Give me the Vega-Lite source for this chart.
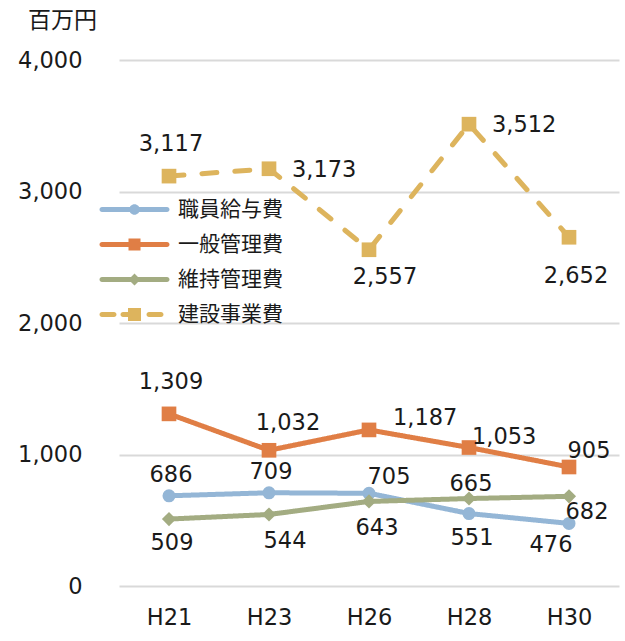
{
  "$schema": "https://vega.github.io/schema/vega-lite/v6.json",
  "width": 500,
  "height": 526,
  "autosize": "none",
  "padding": {"left": 119, "top": 60, "right": 6, "bottom": 55},
  "background": "white",
  "config": {
    "view": {"stroke": null},
    "font": "DejaVu Sans, Noto Sans CJK JP",
    "text": {"font": "DejaVu Sans", "fontSize": 22.5, "color": "#1a1a1a", "baseline": "middle"},
    "axis": {"labelFont": "DejaVu Sans", "labelColor": "#1a1a1a", "domain": false, "ticks": false}
  },
  "data": {
    "values": [
      {"year": "H21", "series": "職員給与費", "value": 686},
      {"year": "H23", "series": "職員給与費", "value": 709},
      {"year": "H26", "series": "職員給与費", "value": 705},
      {"year": "H28", "series": "職員給与費", "value": 551},
      {"year": "H30", "series": "職員給与費", "value": 476},
      {"year": "H21", "series": "一般管理費", "value": 1309},
      {"year": "H23", "series": "一般管理費", "value": 1032},
      {"year": "H26", "series": "一般管理費", "value": 1187},
      {"year": "H28", "series": "一般管理費", "value": 1053},
      {"year": "H30", "series": "一般管理費", "value": 905},
      {"year": "H21", "series": "維持管理費", "value": 509},
      {"year": "H23", "series": "維持管理費", "value": 544},
      {"year": "H26", "series": "維持管理費", "value": 643},
      {"year": "H28", "series": "維持管理費", "value": 665},
      {"year": "H30", "series": "維持管理費", "value": 682},
      {"year": "H21", "series": "建設事業費", "value": 3117},
      {"year": "H23", "series": "建設事業費", "value": 3173},
      {"year": "H26", "series": "建設事業費", "value": 2557},
      {"year": "H28", "series": "建設事業費", "value": 3512},
      {"year": "H30", "series": "建設事業費", "value": 2652}
    ]
  },
  "encoding": {
    "x": {
      "field": "year", "type": "ordinal",
      "scale": {"type": "point", "padding": 0.5},
      "axis": {"title": null, "labelAngle": 0, "labelFontSize": 22.5, "labelPadding": 20, "grid": false}
    },
    "y": {
      "field": "value", "type": "quantitative",
      "scale": {"domain": [0, 4000], "nice": false},
      "axis": {
        "values": [0, 1000, 2000, 3000, 4000], "format": ",d",
        "grid": true, "gridColor": "#d9d9d9", "gridWidth": 2,
        "labelFontSize": 22.5, "labelPadding": 37,
        "title": "百万円", "titleAngle": 0, "titleX": -57, "titleY": -40,
        "titleAlign": "center", "titleBaseline": "middle",
        "titleFont": "Noto Sans CJK JP", "titleFontSize": 23, "titleFontWeight": "normal", "titleColor": "#1a1a1a"
      }
    }
  },
  "layer": [
    {
      "mark": {"type": "line", "strokeWidth": 5, "strokeCap": "round", "strokeJoin": "round"},
      "encoding": {
        "color": {"field": "series", "type": "nominal",
          "scale": {"domain": ["職員給与費", "一般管理費", "維持管理費", "建設事業費"], "range": ["#94B6D6", "#E07E45", "#A3AC82", "#DDB45D"]},
          "legend": null},
        "strokeDash": {"field": "series", "type": "nominal",
          "scale": {"domain": ["職員給与費", "一般管理費", "維持管理費", "建設事業費"], "range": [[1, 0], [1, 0], [1, 0], [15, 18]]},
          "legend": null}
      }
    },
    {
      "transform": [{"filter": "datum.series === '職員給与費'"}],
      "mark": {"type": "point", "shape": "circle", "filled": true, "opacity": 1, "size": 170},
      "encoding": {"color": {"field": "series", "type": "nominal", "legend": null}}
    },
    {
      "transform": [{"filter": "datum.series === '一般管理費' || datum.series === '建設事業費'"}],
      "mark": {"type": "point", "shape": "square", "filled": true, "opacity": 1, "size": 215},
      "encoding": {"color": {"field": "series", "type": "nominal", "legend": null}}
    },
    {
      "transform": [{"filter": "datum.series === '維持管理費'"}],
      "mark": {"type": "point", "shape": "diamond", "filled": true, "opacity": 1, "size": 200},
      "encoding": {"color": {"field": "series", "type": "nominal", "legend": null}}
    },
    {
      "transform": [{"filter": "false"}],
      "mark": {"type": "point", "filled": true, "opacity": 1},
      "encoding": {
        "fill": {"field": "series", "type": "nominal",
          "scale": {"domain": ["建設事業費", "維持管理費", "一般管理費", "職員給与費"], "range": ["#DDB45D", "#A3AC82", "#E07E45", "#94B6D6"]},
          "legend": {
            "title": null, "orient": "none", "legendX": 5, "legendY": 139,
            "values": ["職員給与費", "一般管理費", "維持管理費", "建設事業費"],
            "symbolSize": 100, "symbolStrokeWidth": 0, "symbolOpacity": 1,
            "labelFont": "Noto Sans CJK JP", "labelFontSize": 21, "labelColor": "#1a1a1a",
            "labelOffset": 33, "rowPadding": 13, "padding": 0
          }},
        "shape": {"field": "series", "type": "nominal",
          "scale": {"domain": ["建設事業費", "維持管理費", "一般管理費", "職員給与費"],
            "range": [
              "M-6.5,-0.5H-4.1A0.5,0.5 0 0 1 -4.1,0.5H-6.5A0.5,0.5 0 0 1 -6.5,-0.5ZM-2.3,-0.5H-1.3V-1.3H1.3V1.3H-1.3V0.5H-2.3A0.5,0.5 0 0 1 -2.3,-0.5ZM2.9,-0.5H5.3A0.5,0.5 0 0 1 5.3,0.5H2.9A0.5,0.5 0 0 1 2.9,-0.5Z",
              "M-6.5,-0.5H6.5A0.5,0.5 0 0 1 6.5,0.5H-6.5A0.5,0.5 0 0 1 -6.5,-0.5ZM0,-1.2L1.2,0L0,1.2L-1.2,0Z",
              "M-6.5,-0.5H6.5A0.5,0.5 0 0 1 6.5,0.5H-6.5A0.5,0.5 0 0 1 -6.5,-0.5ZM-1.2,-1.2H1.2V1.2H-1.2Z",
              "M-6.5,-0.5H6.5A0.5,0.5 0 0 1 6.5,0.5H-6.5A0.5,0.5 0 0 1 -6.5,-0.5ZM1.05,0A1.05,1.05 0 1 1 -1.05,0A1.05,1.05 0 1 1 1.05,0Z"
            ]},
          "legend": {
            "title": null, "orient": "none", "legendX": 5, "legendY": 139,
            "values": ["職員給与費", "一般管理費", "維持管理費", "建設事業費"],
            "symbolSize": 100, "symbolStrokeWidth": 0, "symbolOpacity": 1,
            "labelFont": "Noto Sans CJK JP", "labelFontSize": 21, "labelColor": "#1a1a1a",
            "labelOffset": 33, "rowPadding": 13, "padding": 0
          }
        }
      }
    },
    {
      "transform": [{"filter": "indexof(['建設事業費|H21','一般管理費|H21'], datum.series + '|' + datum.year) >= 0"}],
      "mark": {"type": "text", "dx": 2, "dy": -32},
      "encoding": {"text": {"field": "value", "type": "quantitative", "format": ","}}
    },
    {
      "transform": [{"filter": "indexof(['職員給与費|H21','職員給与費|H23'], datum.series + '|' + datum.year) >= 0"}],
      "mark": {"type": "text", "dx": 2, "dy": -21},
      "encoding": {"text": {"field": "value", "type": "quantitative", "format": ","}}
    },
    {
      "transform": [{"filter": "indexof(['維持管理費|H28'], datum.series + '|' + datum.year) >= 0"}],
      "mark": {"type": "text", "dx": 2, "dy": -15},
      "encoding": {"text": {"field": "value", "type": "quantitative", "format": ","}}
    },
    {
      "transform": [{"filter": "indexof(['一般管理費|H23'], datum.series + '|' + datum.year) >= 0"}],
      "mark": {"type": "text", "dx": 19, "dy": -27},
      "encoding": {"text": {"field": "value", "type": "quantitative", "format": ","}}
    },
    {
      "transform": [{"filter": "indexof(['一般管理費|H30','職員給与費|H26'], datum.series + '|' + datum.year) >= 0"}],
      "mark": {"type": "text", "dx": 20, "dy": -16},
      "encoding": {"text": {"field": "value", "type": "quantitative", "format": ","}}
    },
    {
      "transform": [{"filter": "indexof(['建設事業費|H23','建設事業費|H28'], datum.series + '|' + datum.year) >= 0"}],
      "mark": {"type": "text", "align": "left", "dx": 23, "dy": 1},
      "encoding": {"text": {"field": "value", "type": "quantitative", "format": ","}}
    },
    {
      "transform": [{"filter": "indexof(['一般管理費|H26'], datum.series + '|' + datum.year) >= 0"}],
      "mark": {"type": "text", "align": "left", "dx": 24, "dy": -12},
      "encoding": {"text": {"field": "value", "type": "quantitative", "format": ","}}
    },
    {
      "transform": [{"filter": "indexof(['一般管理費|H28'], datum.series + '|' + datum.year) >= 0"}],
      "mark": {"type": "text", "align": "left", "dx": 3, "dy": -11},
      "encoding": {"text": {"field": "value", "type": "quantitative", "format": ","}}
    },
    {
      "transform": [{"filter": "indexof(['維持管理費|H21','職員給与費|H28'], datum.series + '|' + datum.year) >= 0"}],
      "mark": {"type": "text", "dx": 3, "dy": 24},
      "encoding": {"text": {"field": "value", "type": "quantitative", "format": ","}}
    },
    {
      "transform": [{"filter": "indexof(['維持管理費|H23','建設事業費|H26'], datum.series + '|' + datum.year) >= 0"}],
      "mark": {"type": "text", "dx": 16, "dy": 27},
      "encoding": {"text": {"field": "value", "type": "quantitative", "format": ","}}
    },
    {
      "transform": [{"filter": "indexof(['維持管理費|H26'], datum.series + '|' + datum.year) >= 0"}],
      "mark": {"type": "text", "dx": 8, "dy": 27},
      "encoding": {"text": {"field": "value", "type": "quantitative", "format": ","}}
    },
    {
      "transform": [{"filter": "indexof(['職員給与費|H30'], datum.series + '|' + datum.year) >= 0"}],
      "mark": {"type": "text", "dx": -18, "dy": 22},
      "encoding": {"text": {"field": "value", "type": "quantitative", "format": ","}}
    },
    {
      "transform": [{"filter": "indexof(['維持管理費|H30'], datum.series + '|' + datum.year) >= 0"}],
      "mark": {"type": "text", "dx": 18, "dy": 16},
      "encoding": {"text": {"field": "value", "type": "quantitative", "format": ","}}
    },
    {
      "transform": [{"filter": "indexof(['建設事業費|H30'], datum.series + '|' + datum.year) >= 0"}],
      "mark": {"type": "text", "dx": 7, "dy": 39},
      "encoding": {"text": {"field": "value", "type": "quantitative", "format": ","}}
    }
  ]
}
